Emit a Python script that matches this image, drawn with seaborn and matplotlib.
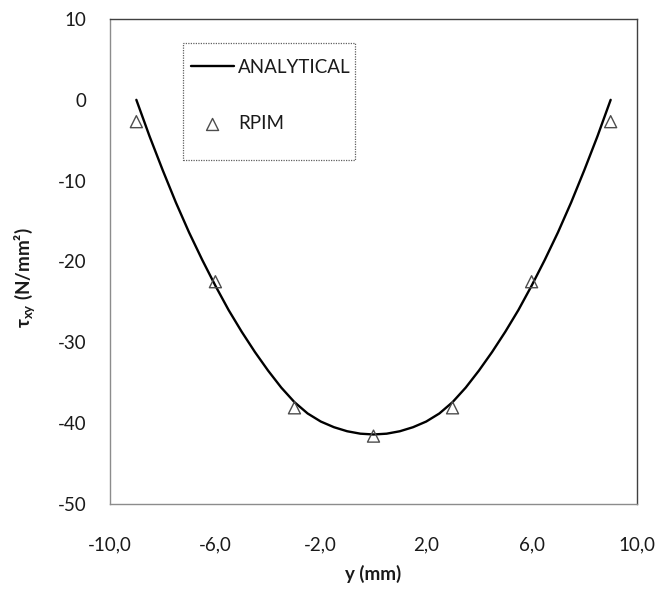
import matplotlib
matplotlib.use("Agg")
import matplotlib.pyplot as plt
import seaborn as sns
import pandas as pd

# Analytical shear stress profile across the section depth
y_analytical = [-9.0, -8.5, -8.0, -7.5, -7.0, -6.5, -6.0, -5.5, -5.0, -4.5, -4.0, -3.5,
                -3.0, -2.5, -2.0, -1.5, -1.0, -0.5, 0.0, 0.5, 1.0, 1.5, 2.0, 2.5,
                3.0, 3.5, 4.0, 4.5, 5.0, 5.5, 6.0, 6.5, 7.0, 7.5, 8.0, 8.5, 9.0]
tau_analytical = [0.0, -4.5, -8.7, -12.7, -16.4, -19.8, -23.0, -26.0, -28.7, -31.2,
                  -33.5, -35.6, -37.4, -38.8, -39.8, -40.5, -41.0, -41.3, -41.4,
                  -41.3, -41.0, -40.5, -39.8, -38.8, -37.4, -35.6, -33.5, -31.2,
                  -28.7, -26.0, -23.0, -19.8, -16.4, -12.7, -8.7, -4.5, 0.0]

# RPIM results at the nodes
y_rpim = [-9, -6, -3, 0, 3, 6, 9]
tau_rpim = [-2.7, -22.5, -38.1, -41.6, -38.1, -22.5, -2.7]

x_ticks = [-10, -6, -2, 2, 6, 10]
x_tick_labels = ["-10,0", "-6,0", "-2,0", "2,0", "6,0", "10,0"]
y_ticks = [10, 0, -10, -20, -30, -40, -50]
y_tick_labels = ["10", "0", "-10", "-20", "-30", "-40", "-50"]

sns.set_style("white")
plt.rcParams["font.family"] = ["Lato", "DejaVu Sans"]
plt.rcParams["axes.unicode_minus"] = False
plt.rcParams["mathtext.fontset"] = "custom"
plt.rcParams["mathtext.rm"] = "Lato:bold"
plt.rcParams["mathtext.bf"] = "Lato:bold"

W, H = 661, 601
fig = plt.figure(figsize=(W / 100, H / 100), dpi=100)
ax = fig.add_axes([110 / W, 1 - 504 / H, 527 / W, 485 / H])

df_a = pd.DataFrame({"y": y_analytical, "tau": tau_analytical})
df_r = pd.DataFrame({"y": y_rpim, "tau": tau_rpim})

sns.lineplot(data=df_a, x="y", y="tau", ax=ax, color="black", linewidth=1.7,
             label="ANALYTICAL", zorder=2)
sns.scatterplot(data=df_r, x="y", y="tau", ax=ax, marker="^", s=75,
                facecolors="none", edgecolors="#4d4d4d", linewidth=1.0,
                label="RPIM", zorder=3)

ax.set_xlim(-10, 10)
ax.set_ylim(-50, 10)
ax.set_xticks(x_ticks)
ax.set_xticklabels(x_tick_labels)
ax.set_yticks(y_ticks)
ax.set_yticklabels(y_tick_labels)
ax.tick_params(axis="both", length=0, labelsize=13.5, colors="#1a1a1a")
ax.tick_params(axis="y", pad=17)
ax.tick_params(axis="x", pad=23)

for side in ["left", "bottom"]:
    ax.spines[side].set_color("#8c8c8c")
    ax.spines[side].set_linewidth(1.0)
for side in ["top", "right"]:
    ax.spines[side].set_color("#404040")
    ax.spines[side].set_linewidth(1.0)

ax.set_xlabel("y (mm)", fontsize=13.5, fontweight="bold", color="#1a1a1a")
ax.set_ylabel(r"τ$_{\mathrm{xy}}$ (N/mm²)", fontsize=13.5, fontweight="bold",
              color="#1a1a1a")
ax.xaxis.set_label_coords(0.5, -0.125)
ax.yaxis.set_label_coords(-0.137, 0.466)

leg = ax.legend(loc="upper left", bbox_to_anchor=(191 / W, 1 - 59 / H),
                bbox_transform=fig.transFigure, frameon=False, borderpad=0,
                handlelength=2.3, handletextpad=0.2, labelspacing=2.1,
                fontsize=13.5, borderaxespad=0)
for t in leg.get_texts():
    t.set_color("#1a1a1a")

frame = plt.Rectangle((183 / W, 1 - 160 / H), 172 / W, 117 / H,
                      transform=fig.transFigure, fill=False,
                      edgecolor="#606060", linewidth=0.9, linestyle=(0, (1, 1)))
fig.patches.append(frame)

fig.savefig("out.png", dpi=100)
